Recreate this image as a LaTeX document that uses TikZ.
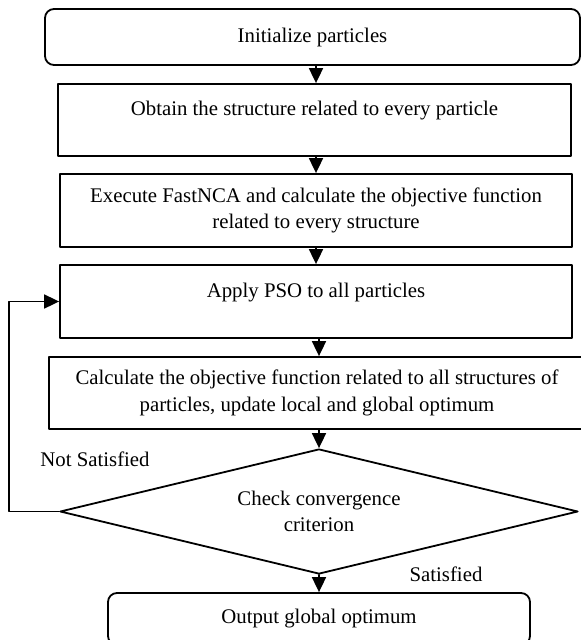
\documentclass[tikz,border=0pt]{standalone}
\usepackage{fontspec}
\setmainfont{Liberation Serif}
\usetikzlibrary{arrows.meta, shapes.geometric, positioning}

\begin{document}
\begin{tikzpicture}[x=1pt, y=-1pt, line cap=round, line join=round,
    every node/.style={font=\fontsize{20.8}{26.5}\selectfont},
    box/.style={draw, line width=1.8pt, align=center, inner sep=0pt},
    rbox/.style={box, rounded corners=9pt},
    arr/.style={-{Triangle[length=15pt, width=14pt]}, line width=1.8pt}]

    % canvas, cropped like the original figure
    \useasboundingbox (0,0) rectangle (581,640);
    \clip (0,0) rectangle (581,640);

    % x of the vertical arrows
    \coordinate (spine) at (316,0);

    % process boxes, top to bottom
    \node[rbox, minimum width=535pt, minimum height=56pt] (init) at (312.5,37) {Initialize particles};
    \node[box, minimum width=513pt, minimum height=72pt] (struct) at (314.5,120) {Obtain the structure related to every particle\\[-12pt] \strut};
    \node[box, minimum width=512pt, minimum height=73pt] (fastnca) at (316,210.5) {Execute FastNCA and calculate the objective function\\related to every structure};
    \node[box, minimum width=512pt, minimum height=73pt] (pso) at (316,301.5) {Apply PSO to all particles\\[-12pt] \strut};
    \node[box, minimum width=536pt, minimum height=72pt] (update) at (317,393) {Calculate the objective function related to all structures of\\particles, update local and global optimum};

    % decision
    \node[draw, diamond, aspect=4.14, minimum width=518pt, minimum height=125pt, inner sep=0pt,
          line width=1.8pt, align=center] (check) at (319,511.5) {Check convergence\\criterion};

    % end box
    \node[rbox, minimum width=422pt, minimum height=52pt] (out) at (319,619) {Output global optimum};

    % branch labels
    \node (nsat) at (95,459) {Not Satisfied};
    \node (sat) at (446,574) {Satisfied};

    % main flow
    \draw[arr] (init.south -| spine) -- (struct.north -| spine);
    \draw[arr] (struct.south -| spine) -- (fastnca.north -| spine);
    \draw[arr] (fastnca.south -| spine) -- (pso.north -| spine);
    \draw[arr] (pso.south -| check.north) -- (update.north -| check.north);
    \draw[arr] (update.south -| check.north) -- (check.north);
    \draw[arr] (check.south) -- (out.north -| check.south);

    % loop back when not converged
    \draw[arr] (check.west) -- ++(-50,0) |- (pso.west);

\end{tikzpicture}
\end{document}
